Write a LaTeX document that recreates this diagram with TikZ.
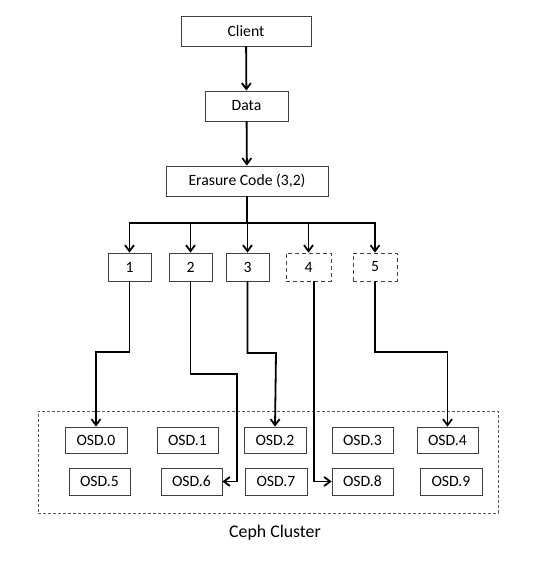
\documentclass[tikz,border=0pt]{standalone}
\usepackage{fontspec}
\setmainfont{Carlito}
\usetikzlibrary{arrows.meta}
\begin{document}
\begin{tikzpicture}[x=1pt,y=-1pt,
  box/.style={draw=black!75,line width=0.8pt,inner sep=0pt,font=\fontsize{15.7}{18}\selectfont,minimum height=30pt},
  chunk/.style={box,minimum height=28pt},
  ghost/.style={chunk,dash pattern=on 4pt off 3pt},
  osd/.style={box,minimum width=61pt,minimum height=26pt},
  arr/.style={line width=1.8pt,-{Straight Barb[length=6pt,width=9pt,line width=1.8pt]}},
  link/.style={line width=1.8pt}]
\useasboundingbox (0,0) rectangle (534,564);

% pipeline
\node[box,minimum width=130pt] (client) at (246,31) {Client};
\node[box,minimum width=83pt] (data) at (246.5,106) {Data};
\node[box,minimum width=162pt] (ec) at (247,181) {Erasure Code (3,2)};

% chunks
\node[chunk,minimum width=43pt] (b1) at (129.5,267) {1};
\node[chunk,minimum width=43pt] (b2) at (190.5,267) {2};
\node[chunk,minimum width=43pt] (b3) at (247.5,267) {3};
\node[ghost,minimum width=45pt] (b4) at (308.5,267) {4};
\node[ghost,minimum width=44pt] (b5) at (375,267) {5};

% cluster
\node[draw=black!65,line width=0.7pt,dash pattern=on 3pt off 2pt,minimum width=460pt,minimum height=102pt,inner sep=0pt] (cluster) at (268,462) {};
\node[font=\fontsize{17.8}{21}\selectfont] (clabel) at (275,533) {Ceph Cluster};

\node[osd,minimum width=62pt] (o0) at (96,440) {OSD.0};
\node[osd] (o1) at (187.5,440) {OSD.1};
\node[osd,minimum width=62pt] (o2) at (275,440) {OSD.2};
\node[osd] (o3) at (362.5,440) {OSD.3};
\node[osd] (o4) at (447.5,440) {OSD.4};
\node[osd,minimum height=27pt] (o5) at (99.5,481.5) {OSD.5};
\node[osd,minimum height=27pt] (o6) at (191.5,481.5) {OSD.6};
\node[osd,minimum height=27pt,minimum width=62pt] (o7) at (276,481.5) {OSD.7};
\node[osd,minimum height=27pt] (o8) at (362.5,481.5) {OSD.8};
\node[osd,minimum height=27pt,minimum width=62pt] (o9) at (451,481.5) {OSD.9};

% flow from client to encoder
\draw[arr] (client) -- (data);
\draw[arr] (data) -- (ec);

% fan-out to chunks
\coordinate (bus) at (247,223);
\draw[link] (ec.south) -- (bus);
\draw[arr] (bus) -| (b1.north);
\draw[arr] (bus) -| (b2.north);
\draw[arr] (bus) -- (bus -| b3.north) -- (b3.north);
\draw[arr] (bus) -| (b4.north);
\draw[arr] (bus) -| (b5.north);

% placement of chunks on OSDs
\coordinate (j1) at (96,352);
\coordinate (j2) at (237,374);
\coordinate (j3) at (276,353);
\coordinate (j5) at (447.5,352);
\draw[arr] (b1.south) |- (j1) -- (o0.north);
\draw[arr] (b2.south) |- (j2) |- (o6.east);
\draw[arr] (b3.south) |- (j3) -- (o2.north);
\draw[arr] ([xshift=5.5pt]b4.south) |- (o8.west);
\draw[arr] (b5.south) |- (j5) -- (o4.north);
\end{tikzpicture}
\end{document}
